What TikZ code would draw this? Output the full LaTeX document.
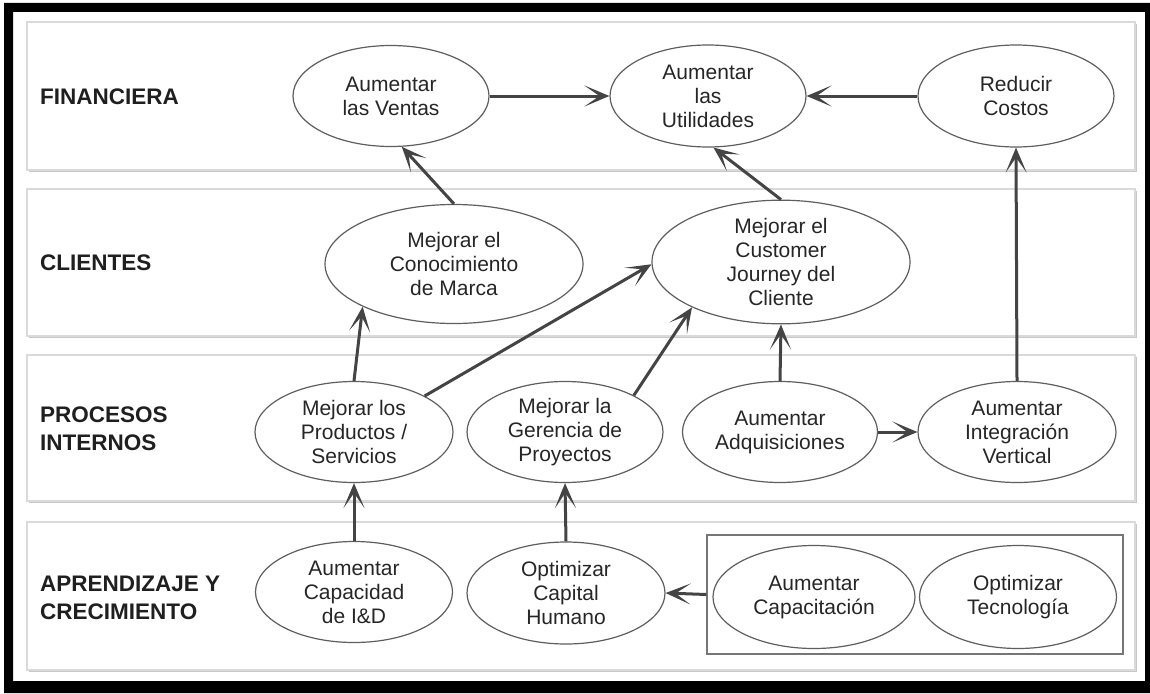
\documentclass[tikz,border=0pt]{standalone}
\usepackage{fontspec}
\setmainfont{Liberation Sans}
\usetikzlibrary{arrows.meta,shapes.geometric}

\definecolor{inkdark}{HTML}{262626}
\definecolor{arrowgray}{HTML}{444444}
\definecolor{edgegray}{HTML}{5E5E5E}
\definecolor{bandedge}{HTML}{DADADA}
\definecolor{bandshadow}{HTML}{C8C8C8}

\tikzset{
  goal/.style={ellipse, draw=edgegray, line width=1.2pt, fill=white, inner sep=0pt,
    minimum width=196pt, minimum height=101pt, align=center, text=inkdark,
    font=\fontsize{21}{24}\selectfont},
  biggoal/.style={goal, minimum width=258pt, minimum height=119pt},
  widegoal/.style={goal, minimum width=200pt, minimum height=103pt},
  rowlabel/.style={anchor=west, align=left, text=black!88, inner sep=0pt,
    font=\fontsize{22.5}{28}\selectfont\bfseries},
  link/.style={draw=arrowgray, line width=3pt,
    -{Stealth[length=25pt,width=21pt,inset=15pt]}},
  band/.style={fill=white, draw=bandedge, line width=1.2pt},
  bandshade/.style={fill=bandshadow},
  groupbox/.style={draw=edgegray!85, line width=1.4pt, minimum width=416pt,
    minimum height=119pt, inner sep=0pt}
}

\begin{document}
\begin{tikzpicture}[x=1pt, y=-1pt]
\useasboundingbox (0,0) rectangle (1150,693);

% outer black frame
\fill[black, even odd rule] (4,3) rectangle (1150,693) (13,12) rectangle (1145,681);

% perspective bands
\foreach \top/\bot in {22/170, 189/336, 355/501, 522/670}{
  \fill[bandshade] (28.5,\top+2) rectangle (1136.5,\bot+2);
  \filldraw[band] (27,\top) rectangle (1135,\bot);
}

% band titles
\node[rowlabel] (lfin) at (40,97) {FINANCIERA};
\node[rowlabel] (lcli) at (40,263) {CLIENTES};
\node[rowlabel] (lpro) at (40,429) {PROCESOS\\INTERNOS};
\node[rowlabel] (lapr) at (40,598) {APRENDIZAJE Y\\CRECIMIENTO};

% financial objectives
\node[goal] (ventas) at (391,96) {Aumentar\\las Ventas};
\node[goal, minimum height=102pt] (util) at (708,96) {Aumentar\\las\\Utilidades};
\node[goal, minimum height=102pt] (costos) at (1016,96) {Reducir\\Costos};

% customer objectives
\node[biggoal] (marca) at (454,264) {Mejorar el\\Conocimiento\\de Marca};
\node[biggoal] (journey) at (781,262) {Mejorar el\\Customer\\Journey del\\Cliente};

% internal process objectives
\node[goal, minimum width=198pt] (prod) at (354,432) {Mejorar los\\Productos /\\Servicios};
\node[goal] (ger) at (565,432) {Mejorar la\\Gerencia de\\Proyectos};
\node[goal, minimum width=195pt] (adq) at (780,432) {Aumentar\\Adquisiciones};
\node[goal, minimum width=198pt] (integ) at (1017,432) {Aumentar\\Integración\\Vertical};

% learning and growth objectives
\node[goal, minimum width=197pt] (idd) at (354,592) {Aumentar\\Capacidad\\de I\&D};
\node[goal, minimum width=198pt, minimum height=102pt] (humano) at (566,593) {Optimizar\\Capital\\Humano};
\node[groupbox] (grupo) at (915,594.5) {};
\node[widegoal, minimum width=202pt] (capac) at (814,597) {Aumentar\\Capacitación};
\node[widegoal, minimum width=197pt] (tecno) at (1018,597) {Optimizar\\Tecnología};

% cause-and-effect links
\draw[link] (ventas.east) -- (util.west);
\draw[link] (costos.west) -- (util.east);
\draw[link] (marca.north) -- (ventas.282);
\draw[link] (journey.north) -- (util.276);
\draw[link] (integ.north) -- (costos.south);
\draw[link] (prod.north) -- (marca.205);
\draw[link] (prod.27) -- (journey.181);
\draw[link] (ger.28) -- (journey.207);
\draw[link] (adq.north) -- (journey.south);
\draw[link] (adq.east) -- (integ.west);
\draw[link] (idd.north) -- (prod.south);
\draw[link] (humano.north) -- (ger.south);
\draw[link] (grupo.west) -- (humano.east);
\end{tikzpicture}
\end{document}
